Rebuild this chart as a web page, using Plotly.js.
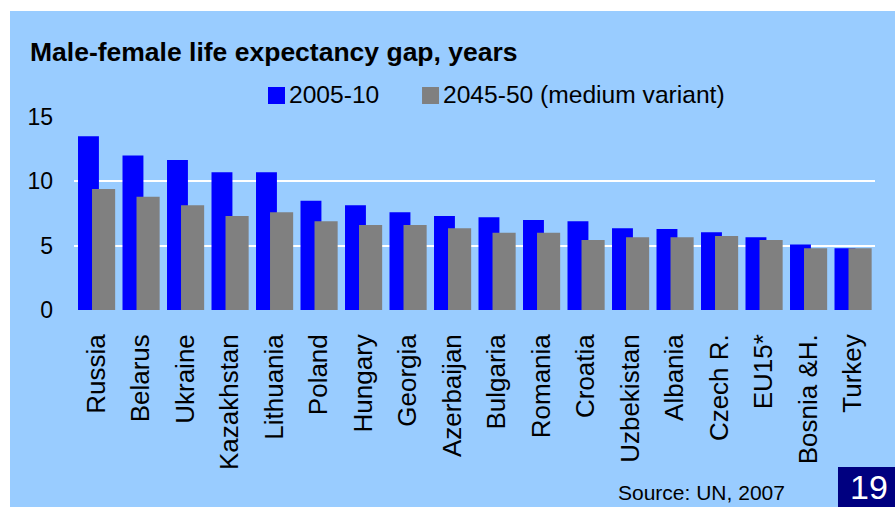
<!DOCTYPE html>
<html>
<head>
<meta charset="utf-8">
<script src="https://cdn.plot.ly/plotly-3.0.1.min.js"></script>
<style>
  body { margin: 0; background: #ffffff; }
  #chart { position: absolute; left: 10px; top: 11px; width: 885px; height: 496px; }
</style>
</head>
<body>
<div id="chart"></div>
<script>
let countries = ["Russia", "Belarus", "Ukraine", "Kazakhstan", "Lithuania", "Poland", "Hungary",
  "Georgia", "Azerbaijan", "Bulgaria", "Romania", "Croatia", "Uzbekistan", "Albania",
  "Czech R.", "EU15*", "Bosnia &H.", "Turkey"];
let gap2005 = [13.5, 12.0, 11.65, 10.7, 10.7, 8.5, 8.15, 7.6, 7.3, 7.2, 7.0, 6.9, 6.35, 6.3, 6.05, 5.65, 5.1, 4.8];
let gap2045 = [9.4, 8.8, 8.15, 7.3, 7.6, 6.9, 6.6, 6.6, 6.35, 6.0, 6.0, 5.45, 5.65, 5.65, 5.75, 5.45, 4.8, 4.8];
let yTicks = [0, 5, 10, 15];
let seriesNames = ["2005-10", "2045-50 (medium variant)"];
let seriesColors = ["#0000FF", "#808080"];

let font = "Liberation Sans, Arial, sans-serif";

let blue = {
    x: countries,
    y: gap2005,
    type: 'bar',
    name: seriesNames[0],
    marker: {color: seriesColors[0]},
    width: 0.47,
    offset: -0.41,
    hoverinfo: 'x+y'
};
let gray = {
    x: countries,
    y: gap2045,
    type: 'bar',
    name: seriesNames[1],
    marker: {color: seriesColors[1]},
    width: 0.52,
    offset: -0.095,
    hoverinfo: 'x+y'
};

// legend drawn by hand so the swatches can be the same size as in the slide
let legendX = [0.2422, 0.4345];
let legendShapes = legendX.map((x, i) => ({
    type: 'rect',
    xref: 'paper', yref: 'paper',
    x0: x, x1: x + 0.0212,
    y0: 1.0674, y1: 1.1554,
    fillcolor: seriesColors[i],
    line: {width: 0}
}));
let legendTexts = legendX.map((x, i) => ({
    text: seriesNames[i],
    xref: 'paper', yref: 'paper',
    x: x + 0.0235, y: 1.114,
    xanchor: 'left', yanchor: 'middle',
    showarrow: false,
    font: {family: font, size: 24.6, color: '#000000'}
}));

let layout = {
    width: 885,
    height: 496,
    paper_bgcolor: '#99CCFF',
    plot_bgcolor: '#99CCFF',
    barmode: 'overlay',
    showlegend: false,
    font: {family: font, size: 24, color: '#000000'},
    margin: {l: 64, r: 20, t: 106, b: 197, pad: 0},
    xaxis: {
        type: 'category',
        tickangle: -90,
        showgrid: false,
        zeroline: false,
        showline: false,
        ticks: '',
        ticklabelstandoff: 18,
        tickfont: {family: font, size: 26, color: '#000000'}
    },
    yaxis: {
        range: [0, 15],
        tickvals: yTicks,
        ticktext: yTicks.map(String),
        showgrid: true,
        gridcolor: '#ffffff',
        gridwidth: 2,
        zeroline: false,
        showline: false,
        ticks: '',
        ticklabelstandoff: 20,
        tickfont: {family: font, size: 23, color: '#000000'}
    },
    annotations: [
        {
            text: '<b>Male-female life expectancy gap, years</b>',
            xref: 'paper', yref: 'paper',
            x: -0.0571, y: 1.337,
            xanchor: 'left', yanchor: 'middle',
            showarrow: false,
            font: {family: font, size: 26.5, color: '#000000'}
        },
        {
            text: 'Source: UN, 2007',
            xref: 'paper', yref: 'paper',
            x: 0.677, y: -0.948,
            xanchor: 'left', yanchor: 'middle',
            showarrow: false,
            font: {family: font, size: 21, color: '#000000'}
        },
        {
            text: '19',
            xref: 'paper', yref: 'paper',
            x: 0.9925, y: -0.917,
            xanchor: 'center', yanchor: 'middle',
            showarrow: false,
            font: {family: font, size: 34, color: '#ffffff'}
        }
    ].concat(legendTexts),
    shapes: [
        {
            type: 'rect',
            xref: 'paper', yref: 'paper',
            x0: 0.9538, x1: 1.03,
            y0: -1.03, y1: -0.8135,
            fillcolor: '#000080',
            line: {width: 0},
            layer: 'below'
        }
    ].concat(legendShapes)
};

Plotly.newPlot('chart', [blue, gray], layout, {displayModeBar: false});
</script>
</body>
</html>
